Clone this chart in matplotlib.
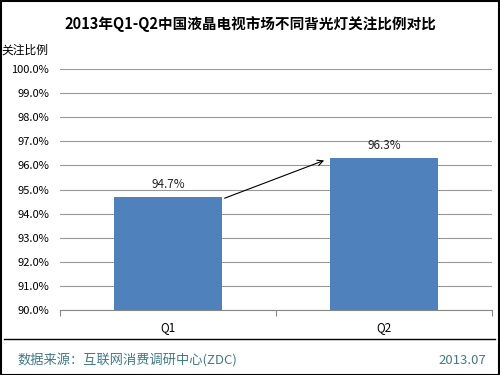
import matplotlib.pyplot as plt
from matplotlib.patches import Rectangle
from matplotlib.lines import Line2D

plt.rcParams['font.family'] = ['Noto Sans CJK SC', 'DejaVu Sans']

quarters = ['Q1', 'Q2']
ratios = [94.7, 96.3]
yticks = [90 + i for i in range(11)]

fig = plt.figure(figsize=(5, 3.75), dpi=100)
ax = fig.add_axes([0.12, 0.173, 0.864, 0.643])

x = list(range(len(quarters)))
ax.bar(x, ratios, width=0.5, color='#4f81bd', zorder=3)
for xi, v in zip(x, ratios):
    ax.text(xi, v + 0.25, f'{v:.1f}%', ha='center', va='bottom', fontsize=8.5, color='#222222')

# growth arrow from Q1 top to Q2 top
ax.annotate('', xy=(x[1] - 0.265, ratios[1] - 0.05), xytext=(x[0] + 0.25, ratios[0] - 0.1),
            arrowprops=dict(arrowstyle='->', color='black', lw=0.8), zorder=4)

ax.set_xlim(-0.5, 1.5)
ax.set_ylim(90, 100)
ax.set_yticks(yticks)
ax.set_yticklabels([f'{t:.1f}%' for t in yticks], fontsize=8)
ax.yaxis.grid(True, color='#999999', lw=0.8, zorder=0)
ax.tick_params(axis='y', length=0, pad=8)
ax.set_xticks([-0.5, 0.5, 1.5])
ax.set_xticklabels([])
ax.set_xticks(x, minor=True)
ax.set_xticklabels(quarters, minor=True, fontsize=8.5)
ax.tick_params(axis='x', which='major', length=4, direction='out', color='#888888')
ax.tick_params(axis='x', which='minor', length=0, pad=8)
for s in ['top', 'left', 'right']:
    ax.spines[s].set_visible(False)
ax.spines['bottom'].set_color('#888888')

fig.text(0.5, 0.935, '2013年Q1-Q2中国液晶电视市场不同背光灯关注比例对比', ha='center', va='center',
         fontsize=10.5, fontweight='bold')
fig.text(0.002, 0.866, '关注比例', ha='left', va='center', fontsize=8.5)

fig.add_artist(Line2D([0.008, 0.99], [0.097, 0.097], color='black', lw=1))
fig.text(0.035, 0.04, '数据来源：互联网消费调研中心(ZDC)', ha='left', va='center', fontsize=9.5, color='#3f7a89')
fig.text(0.972, 0.04, '2013.07', ha='right', va='center', fontsize=9.5, color='#3f7a89')

fig.add_artist(Rectangle((0.001, 0.001), 0.997, 0.996, transform=fig.transFigure,
                         fill=False, edgecolor='black', lw=1.5))

fig.savefig('out.png', dpi=100)
